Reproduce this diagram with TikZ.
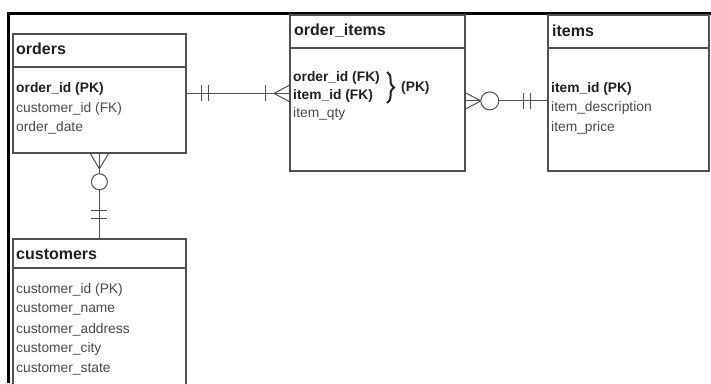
\documentclass[tikz,border=0pt]{standalone}
\usepackage{fontspec}
\setmainfont{Liberation Sans}
\usetikzlibrary{decorations.pathreplacing}
\definecolor{linegray}{HTML}{505050}
\definecolor{textgray}{HTML}{4A4A4A}
\definecolor{keyblack}{HTML}{202020}
\begin{document}
\begin{tikzpicture}[x=1pt, y=-1pt,
  entity/.style={draw=linegray, line width=1.8pt, anchor=north west, inner sep=0pt},
  title/.style={anchor=west, inner sep=0pt, text=keyblack, font=\fontsize{16}{18}\selectfont\bfseries},
  field/.style={anchor=west, inner sep=0pt, text=textgray, font=\fontsize{13.8}{16}\selectfont},
  key/.style={field, text=keyblack, font=\fontsize{13.8}{16}\selectfont\bfseries},
  rel/.style={draw=linegray, line width=1pt}]
  \useasboundingbox (0,0) rectangle (711,383);
  \fill[white] (0,0) rectangle (711,383);
  \clip (0,0) rectangle (711,383);
  % page frame
  \draw[black, line width=3pt] (8,383) -- (8,13) -- (711,13);
  % entities
  \node[entity, minimum width=173pt, minimum height=119pt] (orders) at (12,33) {};
  \node[entity, minimum width=175pt, minimum height=156pt] (oitems) at (289,14) {};
  \node[entity, minimum width=161pt, minimum height=156pt] (items) at (547,14) {};
  \node[entity, minimum width=173pt, minimum height=200pt] (customers) at (12,238) {};
  \draw[linegray, line width=2.6pt] ([yshift=-34pt]orders.north west) -- ([yshift=-34pt]orders.north east);
  \draw[linegray, line width=1.8pt] ([yshift=-34pt]oitems.north west) -- ([yshift=-34pt]oitems.north east);
  \draw[linegray, line width=1.8pt] ([yshift=-34pt]items.north west) -- ([yshift=-34pt]items.north east);
  \draw[linegray, line width=1.8pt] ([yshift=-30pt]customers.north west) -- ([yshift=-30pt]customers.north east);
  % titles
  \node[title] (orders-t) at (16,49) {orders};
  \node[title] (oitems-t) at (294,31) {order\_items};
  \node[title] (items-t) at (552,31) {items};
  \node[title] (customers-t) at (16,254) {customers};
  % attributes
  \node[key] (orders-k) at (16,89) {order\_id (PK)};
  \node[field] (orders-1) at (16,109) {customer\_id (FK)};
  \node[field] (orders-2) at (16,128) {order\_date};
  \node[key] (oitems-k1) at (293,78) {order\_id (FK)};
  \node[key] (oitems-k2) at (293,96) {item\_id (FK)};
  \node[field] (oitems-1) at (293,114) {item\_qty};
  \draw[keyblack, line width=2pt, decorate, decoration={brace, amplitude=7pt}] (387,72) -- (387,103);
  \node[key] (oitems-pk) at (401,88) {(PK)};
  \node[key] (items-k) at (551,89) {item\_id (PK)};
  \node[field] (items-1) at (551,108) {item\_description};
  \node[field] (items-2) at (551,128) {item\_price};
  \foreach \txt [count=\i] in {customer\_id (PK), customer\_name, customer\_address, customer\_city, customer\_state}
    \node[field] (customers-\i) at (16,{270.5+19.7*\i}) {\txt};
  % orders -- order_items : one and only one to one or many
  \coordinate (oo-end) at (orders.east -| oitems.west);
  \draw[rel] (orders.east) -- (oo-end);
  \draw[rel] ([xshift=15pt]orders.east) ++(0,-8) -- ++(0,16);
  \draw[rel] ([xshift=22pt]orders.east) ++(0,-8) -- ++(0,16);
  \draw[rel] ([xshift=-24pt]oo-end) ++(0,-8) -- ++(0,16);
  \draw[rel] ([xshift=-15pt]oo-end) -- ++(15,-8) ([xshift=-15pt]oo-end) -- ++(15,8);
  % order_items -- items : zero or many to one and only one
  \coordinate (oi-start) at ([yshift=-8pt]oitems.east);
  \coordinate (oi-end) at (oi-start -| items.west);
  \draw[rel] (oi-start) -- (oi-end);
  \draw[rel] ([xshift=15pt]oi-start) -- ++(-15,-8) ([xshift=15pt]oi-start) -- ++(-15,8);
  \draw[rel, fill=white] ([xshift=24pt]oi-start) circle (9pt);
  \draw[rel] ([xshift=-24pt]oi-end) ++(0,-8) -- ++(0,16);
  \draw[rel] ([xshift=-17pt]oi-end) ++(0,-8) -- ++(0,16);
  % orders -- customers : zero or many to one and only one
  \draw[rel] (orders.south) -- (customers.north);
  \draw[rel] ([yshift=-15pt]orders.south) -- ++(-9,-15) ([yshift=-15pt]orders.south) -- ++(9,-15);
  \draw[rel, fill=white] ([yshift=-28pt]orders.south) circle (8pt);
  \draw[rel] ([yshift=28pt]customers.north) ++(-8,0) -- ++(16,0);
  \draw[rel] ([yshift=20pt]customers.north) ++(-8,0) -- ++(16,0);
\end{tikzpicture}
\end{document}
